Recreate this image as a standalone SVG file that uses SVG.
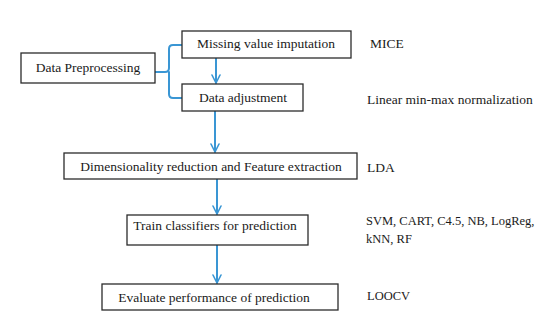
<svg xmlns="http://www.w3.org/2000/svg" width="550" height="319" viewBox="0 0 550 319">
<style>
.box{fill:#fff;stroke:#2b2b2b;stroke-width:1.3}
.t{font-family:"Liberation Serif","Times New Roman",serif;font-size:13.5px;fill:#1a1a1a}
.c{text-anchor:middle}
.s{font-size:12.5px}
.con{fill:none;stroke:#3a96d4;stroke-width:2;stroke-linecap:round;stroke-linejoin:round}
</style>
<defs>
<marker id="ah" viewBox="0 0 10 10" refX="9" refY="5" markerWidth="5" markerHeight="5" markerUnits="strokeWidth" orient="auto">
<path d="M1,1 L9,5 L1,9" fill="none" stroke="#3a96d4" stroke-width="1.6" stroke-linecap="round" stroke-linejoin="round"/>
</marker>
</defs>
<rect width="550" height="319" fill="#fff"/>
<g id="connectors">
<path class="con" d="M155,72 H165 Q169,72 169,68 V49 Q169,45 173,45 H182"/>
<path class="con" d="M169,72 V94 Q169,98 173,98 H182"/>
<line class="con" x1="216" y1="58" x2="216" y2="83" marker-end="url(#ah)"/>
<line class="con" x1="215" y1="111" x2="215" y2="152" marker-end="url(#ah)"/>
<line class="con" x1="217" y1="179" x2="217" y2="214" marker-end="url(#ah)"/>
<line class="con" x1="217" y1="245" x2="217" y2="283" marker-end="url(#ah)"/>
</g>
<g id="preprocessing">
<rect class="box" x="21" y="53" width="134" height="30"/>
<text class="t c" x="88" y="72">Data Preprocessing</text>
</g>
<g id="missing">
<rect class="box" x="182" y="31" width="169" height="27"/>
<text class="t c" x="266" y="48">Missing value imputation</text>
</g>
<g id="adjustment">
<rect class="box" x="182" y="84" width="121" height="27"/>
<text class="t c" x="243" y="102">Data adjustment</text>
</g>
<g id="dimred">
<rect class="box" x="64" y="153" width="293" height="26"/>
<text class="t c" x="211" y="171">Dimensionality reduction and Feature extraction</text>
</g>
<g id="train">
<rect class="box" x="127" y="215" width="181" height="30"/>
<text class="t c" x="215" y="230">Train classifiers for prediction</text>
</g>
<g id="evaluate">
<rect class="box" x="102" y="284" width="236" height="26"/>
<text class="t c" x="214" y="302">Evaluate performance of prediction</text>
</g>
<g id="labels">
<text class="t" x="370" y="48">MICE</text>
<text class="t" x="367" y="104">Linear min-max normalization</text>
<text class="t" x="367" y="172">LDA</text>
<text class="t s" x="366" y="225">SVM, CART, C4.5, NB, LogReg,</text>
<text class="t s" x="366" y="243">kNN, RF</text>
<text class="t s" x="367" y="300">LOOCV</text>
</g>
</svg>
